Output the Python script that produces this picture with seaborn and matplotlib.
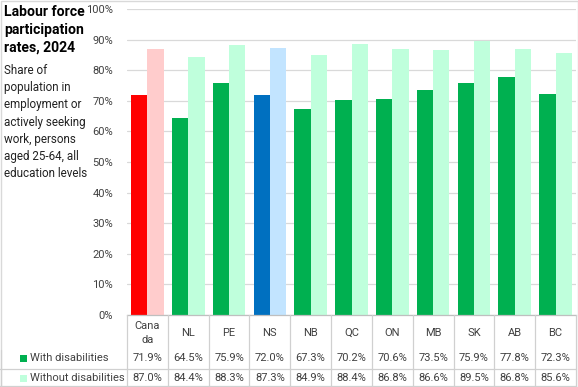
import matplotlib
matplotlib.use("Agg")
import matplotlib.pyplot as plt
import matplotlib.transforms as mtransforms
from matplotlib.lines import Line2D
from matplotlib.patches import Rectangle
from matplotlib.ticker import PercentFormatter
import seaborn as sns
import pandas as pd

regions = ["Canada", "NL", "PE", "NS", "NB", "QC", "ON", "MB", "SK", "AB", "BC"]
region_labels = ["Cana\nda", "NL", "PE", "NS", "NB", "QC", "ON", "MB", "SK", "AB", "BC"]
with_dis = [71.9, 64.5, 75.9, 72.0, 67.3, 70.2, 70.6, 73.5, 75.9, 77.8, 72.3]
without_dis = [87.0, 84.4, 88.3, 87.3, 84.9, 88.4, 86.8, 86.6, 89.5, 86.8, 85.6]
series_names = ["With disabilities", "Without disabilities"]
y_ticks = [0, 10, 20, 30, 40, 50, 60, 70, 80, 90, 100]

title = "Labour force\nparticipation\nrates, 2024"
subtitle = ("Share of\npopulation in\nemployment or\nactively seeking\n"
            "work, persons\naged 25-64, all\neducation levels")

df = pd.DataFrame({
    "region": regions * 2,
    "value": with_dis + without_dis,
    "series": [series_names[0]] * len(regions) + [series_names[1]] * len(regions),
})

sns.set_theme(style="white")
plt.rcParams["font.family"] = ["Roboto", "DejaVu Sans"]

W, H = 578, 387
fig = plt.figure(figsize=(W / 100, H / 100), dpi=100)
ax = fig.add_axes([127 / W, 1 - 315 / H, (576 - 127) / W, (315 - 9) / H])

sns.barplot(data=df, x="region", y="value", hue="series", ax=ax, width=0.8,
            gap=0, legend=False, saturation=1, order=regions,
            hue_order=series_names)

dark = {"Canada": "#FF0000", "NS": "#0070C0"}
light = {"Canada": "#FFCCCC", "NS": "#C2E4FF"}
dark_default = "#00B050"
light_default = "#BFFFDC"
for j, cont in enumerate(ax.containers):
    for i, bar in enumerate(cont):
        r = regions[i]
        if j == 0:
            bar.set_facecolor(dark.get(r, dark_default))
        else:
            bar.set_facecolor(light.get(r, light_default))
        bar.set_edgecolor("none")

ax.set_xlim(-0.5, len(regions) - 0.5)
ax.set_ylim(0, 100)
ax.set_yticks(y_ticks)
ax.yaxis.set_major_formatter(PercentFormatter(decimals=0))
ax.tick_params(axis="y", length=0, pad=10, labelsize=8, labelcolor="#404040")
ax.set_xticks([])
ax.set_xlabel("")
ax.set_ylabel("")
ax.grid(axis="y", color="#D9D9D9", linewidth=0.9)
ax.set_axisbelow(True)
for s in ["top", "right", "left"]:
    ax.spines[s].set_visible(False)
ax.spines["bottom"].set_color("#BFBFBF")
ax.spines["bottom"].set_linewidth(0.9)

# data table
tr = mtransforms.blended_transform_factory(ax.transData, fig.transFigure)
def fy(py):
    return 1 - py / H

line_c = "#D0D0D0"
for i in range(len(regions) + 1):
    x = i - 0.5
    fig.add_artist(Line2D([x, x], [fy(315), fy(386)], transform=tr,
                          color=line_c, linewidth=0.9, clip_on=False))
for py in (369, 386):
    fig.add_artist(Line2D([0 / W, 576 / W], [fy(py), fy(py)],
                          transform=fig.transFigure, color=line_c,
                          linewidth=0.9))
fig.add_artist(Line2D([1 / W, 1 / W], [fy(350), fy(386)],
                      transform=fig.transFigure, color=line_c, linewidth=0.9))

for i, lab in enumerate(region_labels):
    ax.text(i, fy(333), lab, transform=tr, ha="center", va="center",
            fontsize=8, color="#404040", linespacing=1.45)
    ax.text(i, fy(358), f"{with_dis[i]:.1f}%", transform=tr, ha="center",
            va="center", fontsize=8, color="#404040")
    ax.text(i, fy(378), f"{without_dis[i]:.1f}%", transform=tr, ha="center",
            va="center", fontsize=8, color="#404040")

# legend keys in table
for py, name, col in [(358, series_names[0], dark_default),
                      (378, series_names[1], light_default)]:
    fig.add_artist(Rectangle((20 / W, fy(py + 3.5)), 7 / W, 7 / H,
                             transform=fig.transFigure, facecolor=col,
                             edgecolor="none"))
    fig.text(30 / W, fy(py), name, ha="left", va="center", fontsize=8,
             color="#404040")

# title & subtitle
fig.text(4 / W, fy(5), title, ha="left", va="top", fontsize=10.1,
         fontweight="bold", color="black", linespacing=1.35)
fig.text(4 / W, fy(64), subtitle, ha="left", va="top", fontsize=8.4,
         color="#222222", linespacing=1.42)

# chart border
fig.add_artist(Rectangle((0.5 / W, 0.5 / H), (W - 1) / W, (H - 1) / H,
                         transform=fig.transFigure, facecolor="none",
                         edgecolor="#D9D9D9", linewidth=1))

fig.savefig("out.png", dpi=100)
